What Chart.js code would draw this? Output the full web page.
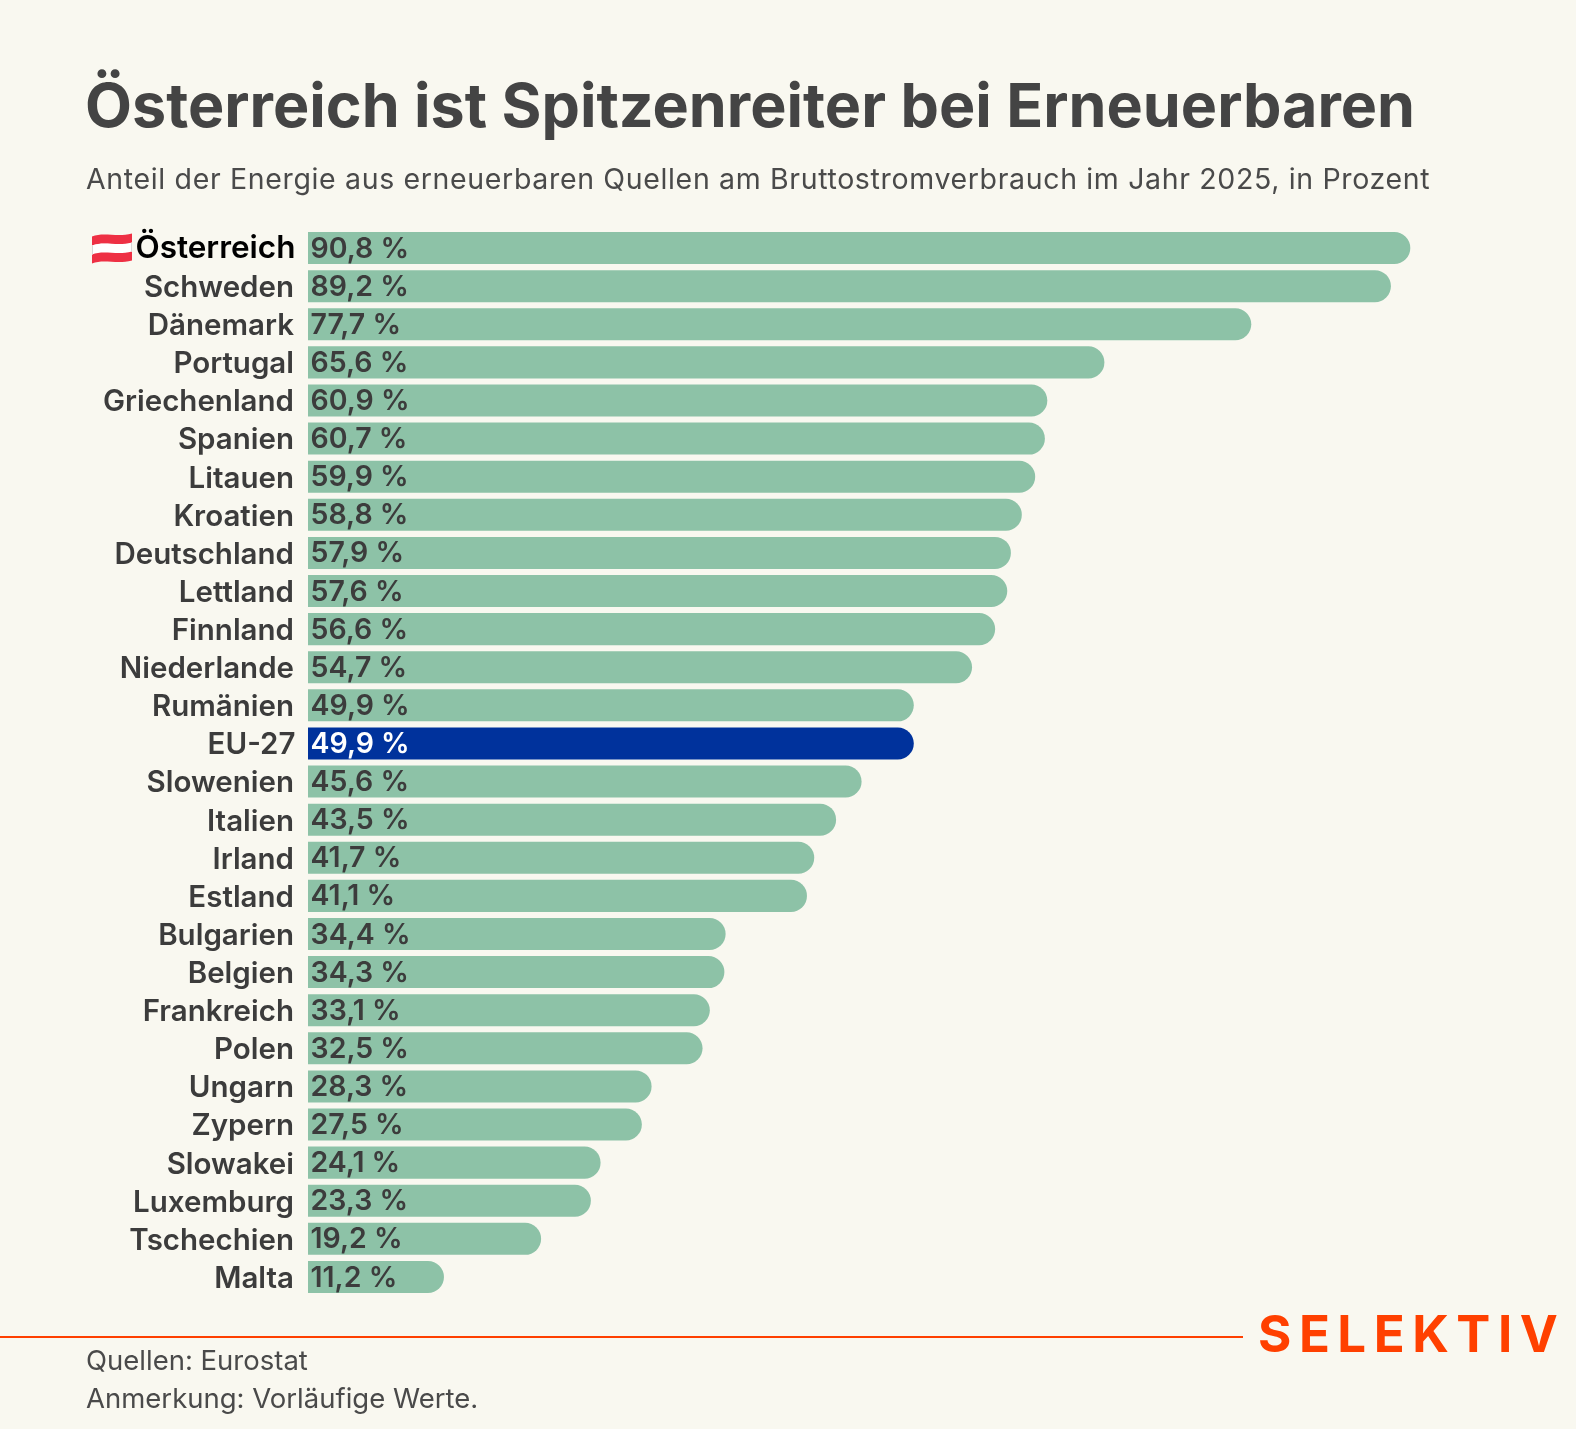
<!DOCTYPE html>
<html lang="de"><head><meta charset="utf-8">
<script src="https://cdn.jsdelivr.net/npm/chart.js@4"></script>
<style>
html,body{margin:0;padding:0;background:#f9f8f0;width:1576px;height:1429px;overflow:hidden;font-family:Inter,sans-serif}
#wrap{position:relative;width:1576px;height:1429px}
canvas{position:absolute;left:0;top:0}
.t{position:absolute;white-space:nowrap}
#title{left:85px;top:63px;font-size:61px;font-weight:700;color:#444;line-height:84px}
#sub{left:86px;top:159px;font-size:28.5px;letter-spacing:.65px;color:#4a4a4a;line-height:40px}
#f1{left:86px;top:1341px;font-size:27.5px;color:#4a4a4a;line-height:38px}
#f2{left:86px;top:1379px;font-size:27.5px;color:#4a4a4a;line-height:38px}
#rule{position:absolute;left:0;top:1336px;width:1243px;height:2px;background:#ff4000}
#logo{left:1258px;top:1304px;font-size:51px;font-weight:700;color:#ff4000;letter-spacing:7.5px;line-height:60px}
</style></head><body>
<div id="wrap">
<canvas id="c" width="1576" height="1429"></canvas>
<div class="t" id="title">Österreich ist Spitzenreiter bei Erneuerbaren</div>
<div class="t" id="sub">Anteil der Energie aus erneuerbaren Quellen am Bruttostromverbrauch im Jahr 2025, in Prozent</div>
<div id="rule"></div>
<div class="t" id="logo">SELEKTIV</div>
<div class="t" id="f1">Quellen: Eurostat</div>
<div class="t" id="f2">Anmerkung: Vorläufige Werte.</div>
</div>
<script>
const categories=["Österreich","Schweden","Dänemark","Portugal","Griechenland","Spanien","Litauen","Kroatien","Deutschland","Lettland","Finnland","Niederlande","Rumänien","EU-27","Slowenien","Italien","Irland","Estland","Bulgarien","Belgien","Frankreich","Polen","Ungarn","Zypern","Slowakei","Luxemburg","Tschechien","Malta"];
const shares=[90.8,89.2,77.7,65.6,60.9,60.7,59.9,58.8,57.9,57.6,56.6,54.7,49.9,49.9,45.6,43.5,41.7,41.1,34.4,34.3,33.1,32.5,28.3,27.5,24.1,23.3,19.2,11.2];
const highlight="EU-27", home="Österreich";
const GREEN="#8dc2a7",BLUE="#00329c",INK="#3c3c3c";
const fmt=v=>v.toFixed(1).replace(".",",")+" %";
const valueLabels={id:"valueLabels",afterDatasetsDraw(ch){
  const c=ch.ctx,m=ch.getDatasetMeta(0);
  c.save();c.font='600 28.5px Inter';c.textBaseline="middle";c.textAlign="left";
  m.data.forEach((b,i)=>{c.fillStyle=categories[i]===highlight?"#fff":INK;c.fillText(fmt(shares[i]),b.base+2.5,b.y+1);});
  c.restore();
}};
const nudgeTicks={id:"nudgeTicks",beforeDraw(ch){
  ch.scales.y.getLabelItems().forEach(it=>{
    if(it.done)return;it.done=true;
    it.options.translation[1]+=it.label===home?0:2;
    if(it.label===home||it.label===highlight)it.options.translation[0]+=1.5;
  });
}};
const flag={id:"flag",afterDraw(ch){
  const c=ch.ctx,yc=ch.scales.y.getPixelForValue(categories.indexOf(home)),x=92,w=40,h=27,top=yc-h/2;
  const band=(y0,hh,col)=>{c.fillStyle=col;c.beginPath();c.moveTo(x,y0+2);
    c.bezierCurveTo(x+w*.3,y0-3,x+w*.6,y0+3,x+w,y0-1);c.lineTo(x+w,y0-1+hh);
    c.bezierCurveTo(x+w*.6,y0+3+hh,x+w*.3,y0-3+hh,x,y0+2+hh);c.closePath();c.fill();};
  band(top,9.4,"#ee3044");band(top+9,9.4,"#ffffff");band(top+18,9,"#ee3044");
  c.fillStyle="#d8d8d8";c.fillRect(x,top+11,1,9);c.fillRect(x+w-1,top+8,1,9);
}};
new Chart(document.getElementById("c"),{
  type:"bar",
  data:{labels:categories,datasets:[{data:shares,
    backgroundColor:categories.map(n=>n===highlight?BLUE:GREEN),
    borderRadius:{topLeft:0,bottomLeft:0,topRight:16,bottomRight:16},borderSkipped:false,
    barPercentage:.84,categoryPercentage:1}]},
  plugins:[nudgeTicks,valueLabels,flag],
  options:{indexAxis:"y",responsive:false,animation:false,devicePixelRatio:1,
    layout:{padding:{top:229,bottom:133,left:0,right:54}},
    plugins:{legend:{display:false},tooltip:{enabled:false},title:{display:false}},
    scales:{
      x:{display:false,min:0,max:100},
      y:{grid:{display:false,drawTicks:false},border:{display:false},
        afterFit(s){s.width=308;},
        ticks:{padding:14,autoSkip:false,
          color:t=>categories[t.index]===home?"#000":INK,
          font:t=>({family:"Inter",size:categories[t.index]===home?31.5:29.5,weight:"600"})}}
    }}
});
</script></body></html>
